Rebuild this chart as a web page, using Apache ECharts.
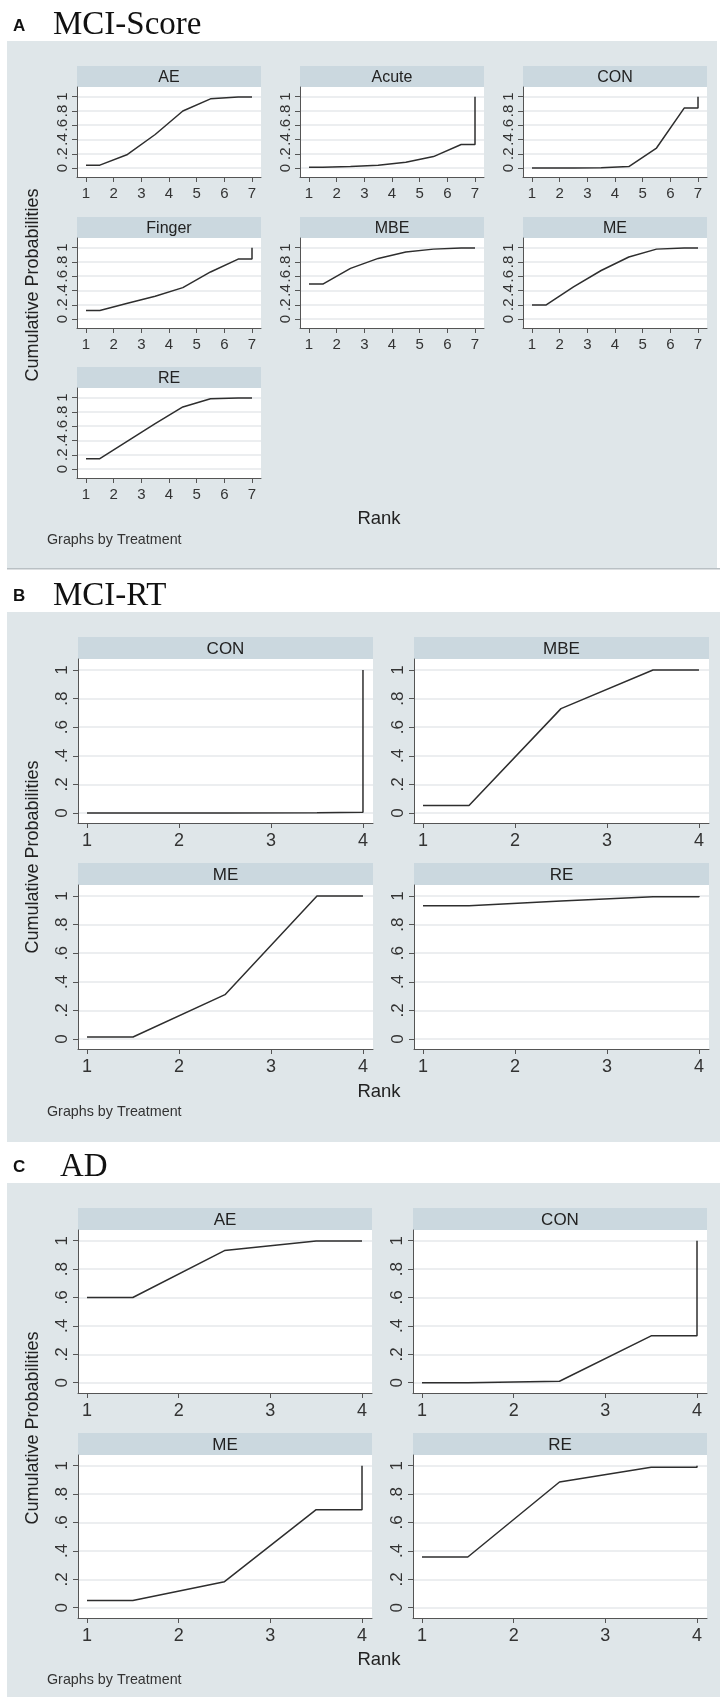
<!DOCTYPE html>
<html><head><meta charset="utf-8">
<script src="https://cdn.jsdelivr.net/npm/echarts@6/dist/echarts.min.js"></script>
<style>html,body{margin:0;padding:0;background:#fff}#c{width:720px;height:1702px}</style>
</head><body><div id="c"></div>
<script>
// ---------------- data ----------------
const ranksA  = [1, 1.5, 2.5, 3.5, 4.5, 5.5, 6.5, 7, 7];
const ranksBC = [1, 1.5, 2.5, 3.5, 4, 4];
const xTicksA  = [1, 2, 3, 4, 5, 6, 7];
const xTicksBC = [1, 2, 3, 4];
const yTicks = [0, 0.2, 0.4, 0.6, 0.8, 1];
const yTickLabels = ['0', '.2', '.4', '.6', '.8', '1'];

// A  MCI-Score
const treatA = ['AE', 'Acute', 'CON', 'Finger', 'MBE', 'ME', 'RE'];
const A_AE     = [0.04, 0.04, 0.19, 0.47, 0.80, 0.97, 0.995, 0.995, 1.0];
const A_Acute  = [0.01, 0.01, 0.02, 0.04, 0.08, 0.16, 0.33, 0.33, 1.0];
const A_CON    = [0.0, 0.0, 0.0, 0.002, 0.02, 0.28, 0.84, 0.84, 1.0];
const A_Finger = [0.12, 0.12, 0.22, 0.32, 0.44, 0.66, 0.84, 0.84, 1.0];
const A_MBE    = [0.49, 0.49, 0.71, 0.85, 0.94, 0.98, 0.995, 0.995, 1.0];
const A_ME     = [0.195, 0.195, 0.45, 0.68, 0.87, 0.98, 0.995, 0.995, 1.0];
const A_RE     = [0.145, 0.145, 0.39, 0.635, 0.87, 0.985, 0.995, 0.995, 1.0];

// B  MCI-RT
const treatB = ['CON', 'MBE', 'ME', 'RE'];
const B_CON = [0.0, 0.0, 0.0, 0.002, 0.005, 1.0];
const B_MBE = [0.053, 0.053, 0.73, 1.0, 1.0, 1.0];
const B_ME  = [0.014, 0.014, 0.31, 1.0, 1.0, 1.0];
const B_RE  = [0.932, 0.932, 0.965, 0.995, 0.995, 1.0];

// C  AD
const treatC = ['AE', 'CON', 'ME', 'RE'];
const C_AE  = [0.6, 0.6, 0.93, 0.998, 0.998, 1.0];
const C_CON = [0.0, 0.0, 0.01, 0.33, 0.33, 1.0];
const C_ME  = [0.05, 0.05, 0.183, 0.69, 0.69, 1.0];
const C_RE  = [0.357, 0.357, 0.885, 0.988, 0.988, 1.0];

const sectionTitles = [['A', 'MCI-Score'], ['B', 'MCI-RT'], ['C', 'AD']];
const yTitle = 'Cumulative Probabilities';
const xTitle = 'Rank';
const note = 'Graphs by Treatment';

// ---------------- layout ----------------
const SANS = "'Liberation Sans', Arial, Helvetica, sans-serif";
const SERIF = "'Liberation Serif', 'Times New Roman', serif";
const BG = '#dfe6e9', STRIP = '#cbd8df', AXIS = '#555', GRID = '#e6e9eb', LINE = '#2e2e2e';

const sections = [
  { treat: treatA, data: [A_AE, A_Acute, A_CON, A_Finger, A_MBE, A_ME, A_RE], ranks: ranksA, xTicks: xTicksA,
    ncol: 3, cols: [77, 300, 523], rows: [66, 217, 367], w: 184, stripH: 21, plotH: 90,
    xMin: 0.675, xMax: 7.325, yMin: -0.126, yMax: 1.136, stripFont: 16, xFont: 15, yFont: 15,
    bg: [7, 41, 710, 527], title: [13, 26, 53, 25], yTitleY: 285, rankY: 519, noteY: 540 },
  { treat: treatB, data: [B_CON, B_MBE, B_ME, B_RE], ranks: ranksBC, xTicks: xTicksBC,
    ncol: 2, cols: [78, 414], rows: [637, 863], w: 295, stripH: 22, plotH: 164,
    xMin: 0.902, xMax: 4.109, yMin: -0.07, yMax: 1.077, stripFont: 17, xFont: 18, yFont: 17,
    bg: [7, 612, 713, 530], title: [13, 596, 53, 596], yTitleY: 857, rankY: 1092, noteY: 1112 },
  { treat: treatC, data: [C_AE, C_CON, C_ME, C_RE], ranks: ranksBC, xTicks: xTicksBC,
    ncol: 2, cols: [78, 413], rows: [1208, 1433], w: 294, stripH: 22, plotH: 163,
    xMin: 0.902, xMax: 4.109, yMin: -0.0725, yMax: 1.075, stripFont: 17, xFont: 18, yFont: 17,
    bg: [7, 1183, 713, 514], title: [13, 1167, 60, 1167], yTitleY: 1428, rankY: 1660, noteY: 1680 }
];

const grid = [], xAxis = [], yAxis = [], series = [], graphic = [];

sections.forEach((s, si) => {
  // section background
  graphic.push({ type: 'rect', shape: { x: s.bg[0], y: s.bg[1], width: s.bg[2], height: s.bg[3] },
    style: { fill: BG }, z: -10, silent: true });
  // section title
  graphic.push({ type: 'text', x: s.title[0], y: s.title[1], style: { text: sectionTitles[si][0],
    font: 'bold 17px ' + SANS, fill: '#111', verticalAlign: 'middle', align: 'left' }, z: 5 });
  graphic.push({ type: 'text', x: s.title[2], y: s.title[3], style: { text: sectionTitles[si][1],
    font: '33px ' + SERIF, fill: '#111', verticalAlign: 'middle', align: 'left' }, z: 5 });
  // axis titles
  graphic.push({ type: 'text', x: 33, y: s.yTitleY, rotation: Math.PI / 2, style: { text: yTitle,
    font: '18px ' + SANS, fill: '#222', align: 'center', verticalAlign: 'middle' }, z: 5 });
  graphic.push({ type: 'text', x: 379, y: s.rankY, style: { text: xTitle,
    font: '18.5px ' + SANS, fill: '#222', align: 'center', verticalAlign: 'middle' }, z: 5 });
  graphic.push({ type: 'text', x: 47, y: s.noteY, style: { text: note,
    font: '14.3px ' + SANS, fill: '#333', align: 'left', verticalAlign: 'middle' }, z: 5 });

  s.treat.forEach((name, i) => {
    const col = i % s.ncol, row = Math.floor(i / s.ncol);
    const left = s.cols[col], stripTop = s.rows[row];
    const top = stripTop + s.stripH;
    // strip
    graphic.push({ type: 'rect', shape: { x: left, y: stripTop, width: s.w, height: s.stripH },
      style: { fill: STRIP }, z: -5, silent: true });
    graphic.push({ type: 'text', x: left + s.w / 2, y: stripTop + s.stripH / 2 + 1, style: { text: name,
      font: s.stripFont + 'px ' + SANS, fill: '#222', align: 'center', verticalAlign: 'middle' }, z: 5 });

    const gi = grid.length;
    grid.push({ left: left, top: top, width: s.w, height: s.plotH, show: true,
      backgroundColor: '#ffffff', borderWidth: 0, containLabel: false, outerBoundsMode: 'none' });
    xAxis.push({ type: 'value', gridIndex: gi, min: s.xMin, max: s.xMax,
      axisLine: { show: true, onZero: false, lineStyle: { color: AXIS, width: 1 } },
      axisTick: { show: true, length: 5, inside: false, customValues: s.xTicks, lineStyle: { color: AXIS, width: 1 } },
      axisLabel: { show: true, customValues: s.xTicks, margin: 9, fontSize: s.xFont, fontFamily: SANS, color: '#333',
        hideOverlap: false, formatter: v => String(Math.round(v)) },
      splitLine: { show: false } });
    yAxis.push({ type: 'value', gridIndex: gi, min: s.yMin, max: s.yMax,
      axisLine: { show: true, onZero: false, lineStyle: { color: AXIS, width: 1 } },
      axisTick: { show: true, length: 5, inside: false, customValues: yTicks, lineStyle: { color: AXIS, width: 1 } },
      axisLabel: { show: true, customValues: yTicks, rotate: 90, margin: 7, fontSize: s.yFont, fontFamily: SANS, color: '#333',
        hideOverlap: false, formatter: v => yTickLabels[Math.round(v * 5)] },
      splitLine: { show: true, lineStyle: { color: GRID, width: 1.5 } } });
    series.push({ type: 'line', xAxisIndex: gi, yAxisIndex: gi, symbol: 'none', animation: false,
      lineStyle: { color: LINE, width: 1.5 }, clip: false,
      data: s.ranks.map((r, k) => [r, s.data[i][k]]) });
  });
});

// separator below section A
graphic.push({ type: 'rect', shape: { x: 7, y: 568, width: 713, height: 1.5 }, style: { fill: '#b9c0c4' }, z: -9, silent: true });

const chart = echarts.init(document.getElementById('c'), null, { renderer: 'canvas', width: 720, height: 1702 });
chart.setOption({ backgroundColor: '#ffffff', animation: false, grid, xAxis, yAxis, series, graphic });
</script></body></html>
